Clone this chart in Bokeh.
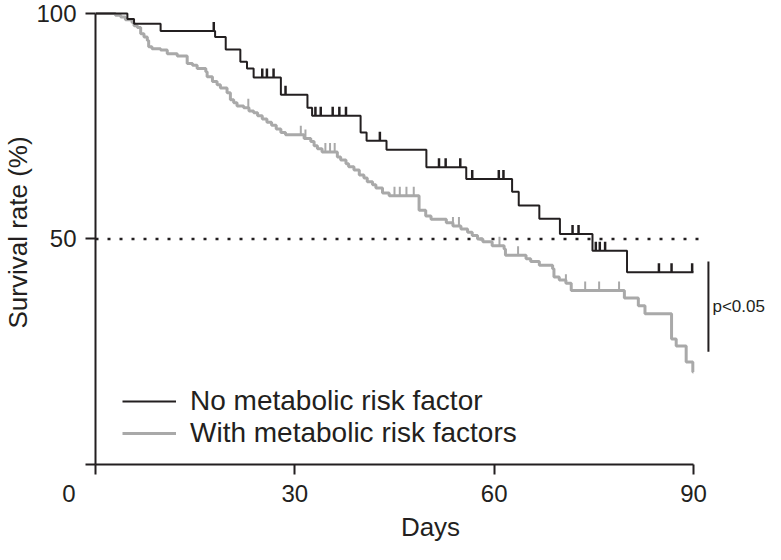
import numpy as np
from bokeh.plotting import figure
from bokeh.models import Range1d, FixedTicker, Legend, LegendItem, Label
from bokeh.embed import file_html
from bokeh.resources import INLINE

# ---------------- data ----------------
no_risk_event_days = [4.8, 5.8, 9.8, 18.0, 19.6, 21.8, 22.8, 23.8, 27.9, 31.9, 32.6,
                      39.9, 40.8, 43.8, 49.8, 55.8, 62.7, 63.7, 66.8, 69.9, 74.8, 80.0]
no_risk_survival = [98.8, 97.7, 96.1, 94.8, 92.0, 89.3, 87.8, 85.8, 82.0, 79.1, 77.3,
                    73.6, 71.8, 69.8, 65.9, 63.3, 60.5, 57.4, 54.5, 51.1, 47.4, 42.6]
no_risk_censor_days = [17.8, 25.1, 25.8, 26.8, 28.6, 33.1, 33.9, 35.7, 36.7, 37.7, 42.8,
                       51.7, 52.7, 54.9, 56.7, 60.7, 61.4, 71.8, 72.7, 75.3, 75.9, 76.7,
                       84.8, 86.7, 89.8]

risk_event_days = [3.0, 3.8, 4.5, 5.5, 5.8, 6.3, 6.8, 7.3, 7.8, 8.0, 8.5, 9.8, 10.8, 12.3,
                   13.8, 14.6, 15.3, 16.6, 16.8, 17.6, 18.3, 18.8, 19.8, 20.3, 20.8, 21.3,
                   22.3, 23.1, 23.8, 24.4, 25.1, 25.8, 26.5, 27.2, 27.9, 28.6, 31.4, 32.4,
                   32.9, 33.4, 34.1, 36.4, 36.9, 37.7, 38.1, 38.9, 39.7, 40.4, 40.9, 41.7,
                   42.2, 43.2, 44.2, 48.7, 49.7, 50.5, 52.8, 53.8, 55.0, 56.0, 56.7, 57.5,
                   58.3, 59.7, 61.5, 61.7, 64.8, 65.5, 66.8, 68.8, 69.0, 69.8, 70.8, 71.6,
                   79.6, 81.7, 82.7, 86.7, 87.4, 88.9, 89.9]
risk_survival = [99.6, 99.2, 98.6, 98.0, 97.3, 96.9, 95.5, 94.8, 94.0, 92.6, 92.2, 91.9,
                 91.1, 90.6, 88.9, 88.5, 87.8, 87.1, 86.0, 84.9, 84.2, 83.5, 82.4, 80.9,
                 80.2, 79.5, 79.1, 78.4, 78.0, 77.3, 76.6, 75.9, 75.2, 74.4, 73.6, 73.1,
                 72.3, 71.6, 70.7, 70.0, 69.3, 68.2, 67.5, 66.7, 66.0, 65.3, 64.2, 63.5,
                 62.7, 62.0, 61.3, 60.2, 59.6, 56.4, 55.1, 54.4, 53.6, 52.9, 52.2, 51.5,
                 50.8, 50.0, 49.4, 48.5, 47.8, 46.4, 45.6, 45.0, 44.2, 43.4, 41.6, 40.9,
                 40.2, 38.6, 36.9, 35.2, 33.4, 27.8, 26.3, 22.7, 20.5]
risk_censor_days = [23.0, 30.9, 31.6, 34.6, 35.3, 36.0, 45.0, 45.8, 46.8, 47.9, 53.8,
                    54.7, 60.8, 63.6, 70.8, 73.7, 75.8, 78.8]

series_labels = ["No metabolic risk factor", "With metabolic risk factors"]
follow_up_end = 90
x_ticks = [0, 30, 60, 90]
y_ticks = [0, 50, 100]
median_line_days = [0, 92]
median_line_pct = [50, 50]
p_bracket_days = [92.25, 92.25]
p_bracket_pct = [25, 45]
p_text = "p<0.05"
p_text_pct = 35

# ---------------- styles ----------------
FONT = "Liberation Sans"
BLACK = "#231f20"
GRAY = "#a9a9a9"
TICK_LEN = 2.0  # censor mark height, in percent units
NBSP = "\u00a0"


def step_arrays(days, surv):
    xs = [0] + list(days) + [follow_up_end]
    ys = [100] + list(surv) + [surv[-1]]
    return xs, ys


def censor_levels(days, surv, cens):
    levels = np.array([100] + list(surv))
    idx = np.searchsorted(np.array(days), np.array(cens), side="right")
    return levels[idx]


p = figure(width=765, height=544, output_backend="svg", toolbar_location=None,
           x_range=Range1d(0, 100.84), y_range=Range1d(0, 102.88),
           min_border_left=95, min_border_right=0, min_border_top=0, min_border_bottom=79)
p.outline_line_color = None
p.grid.visible = False
p.background_fill_color = "white"
p.border_fill_color = "white"

# median reference (dotted)
p.line(median_line_days, median_line_pct, line_color=BLACK, line_width=2.6, line_dash="3 9")

# curves
bx, by = step_arrays(no_risk_event_days, no_risk_survival)
gx, gy = step_arrays(risk_event_days, risk_survival)
g_line = p.step(gx, gy, mode="after", line_color=GRAY, line_width=3)
b_line = p.step(bx, by, mode="after", line_color=BLACK, line_width=2)

# censor marks
gl = censor_levels(risk_event_days, risk_survival, risk_censor_days)
p.segment(x0=risk_censor_days, y0=gl, x1=risk_censor_days, y1=gl + TICK_LEN,
          line_color=GRAY, line_width=2)
bl = censor_levels(no_risk_event_days, no_risk_survival, no_risk_censor_days)
p.segment(x0=no_risk_censor_days, y0=bl, x1=no_risk_censor_days, y1=bl + TICK_LEN,
          line_color=BLACK, line_width=2.5)

# legend-only markers
b_mark = p.scatter(x=[], y=[], marker="cross", line_color=BLACK, line_width=2)
g_mark = p.scatter(x=[], y=[], marker="cross", line_color=GRAY, line_width=2)

# p value bracket
p.line(p_bracket_days, p_bracket_pct, line_color=BLACK, line_width=2)
p.add_layout(Label(x=p_bracket_days[0], y=p_text_pct, text=p_text, x_offset=4,
                   text_baseline="middle", text_align="left", text_font=FONT,
                   text_font_size="17px", text_color=BLACK))

# axes
for ax in (p.xaxis[0], p.yaxis[0]):
    ax.axis_line_color = BLACK
    ax.axis_line_width = 2
    ax.major_tick_line_color = BLACK
    ax.major_tick_line_width = 2
    ax.major_tick_in = 0
    ax.major_tick_out = 10
    ax.minor_tick_line_color = None
    ax.major_label_text_font = FONT
    ax.major_label_text_font_size = "24px"
    ax.major_label_text_color = BLACK
    ax.axis_label_text_font = FONT
    ax.axis_label_text_font_size = "26px"
    ax.axis_label_text_font_style = "normal"
    ax.axis_label_text_color = BLACK

p.xaxis.ticker = FixedTicker(ticks=x_ticks)
p.xaxis.bounds = (0, 90)
# origin label sits left of the corner, as in the reference
p.xaxis.major_label_overrides = {0: "0" + NBSP * 8}
p.xaxis.major_label_standoff = 5
p.xaxis.axis_label = "Days"
p.xaxis.axis_label_standoff = 2

p.yaxis.ticker = FixedTicker(ticks=y_ticks)
p.yaxis.bounds = (0, 100)
p.yaxis.major_label_overrides = {0: ""}
p.yaxis.major_label_standoff = 9
p.yaxis.axis_label = "Survival rate (%)"
p.yaxis.axis_label_standoff = 0

legend = Legend(items=[LegendItem(label=series_labels[0], renderers=[b_line, b_mark]),
                       LegendItem(label=series_labels[1], renderers=[g_line, g_mark])],
                location=(27, 15), orientation="vertical", padding=0, margin=0, spacing=0,
                glyph_width=54, glyph_height=30, label_height=30, label_standoff=14,
                label_text_font=FONT, label_text_font_size="28px", label_text_color=BLACK,
                border_line_color=None, background_fill_alpha=0)
p.add_layout(legend)

open("out.html", "w").write(file_html(p, INLINE))
